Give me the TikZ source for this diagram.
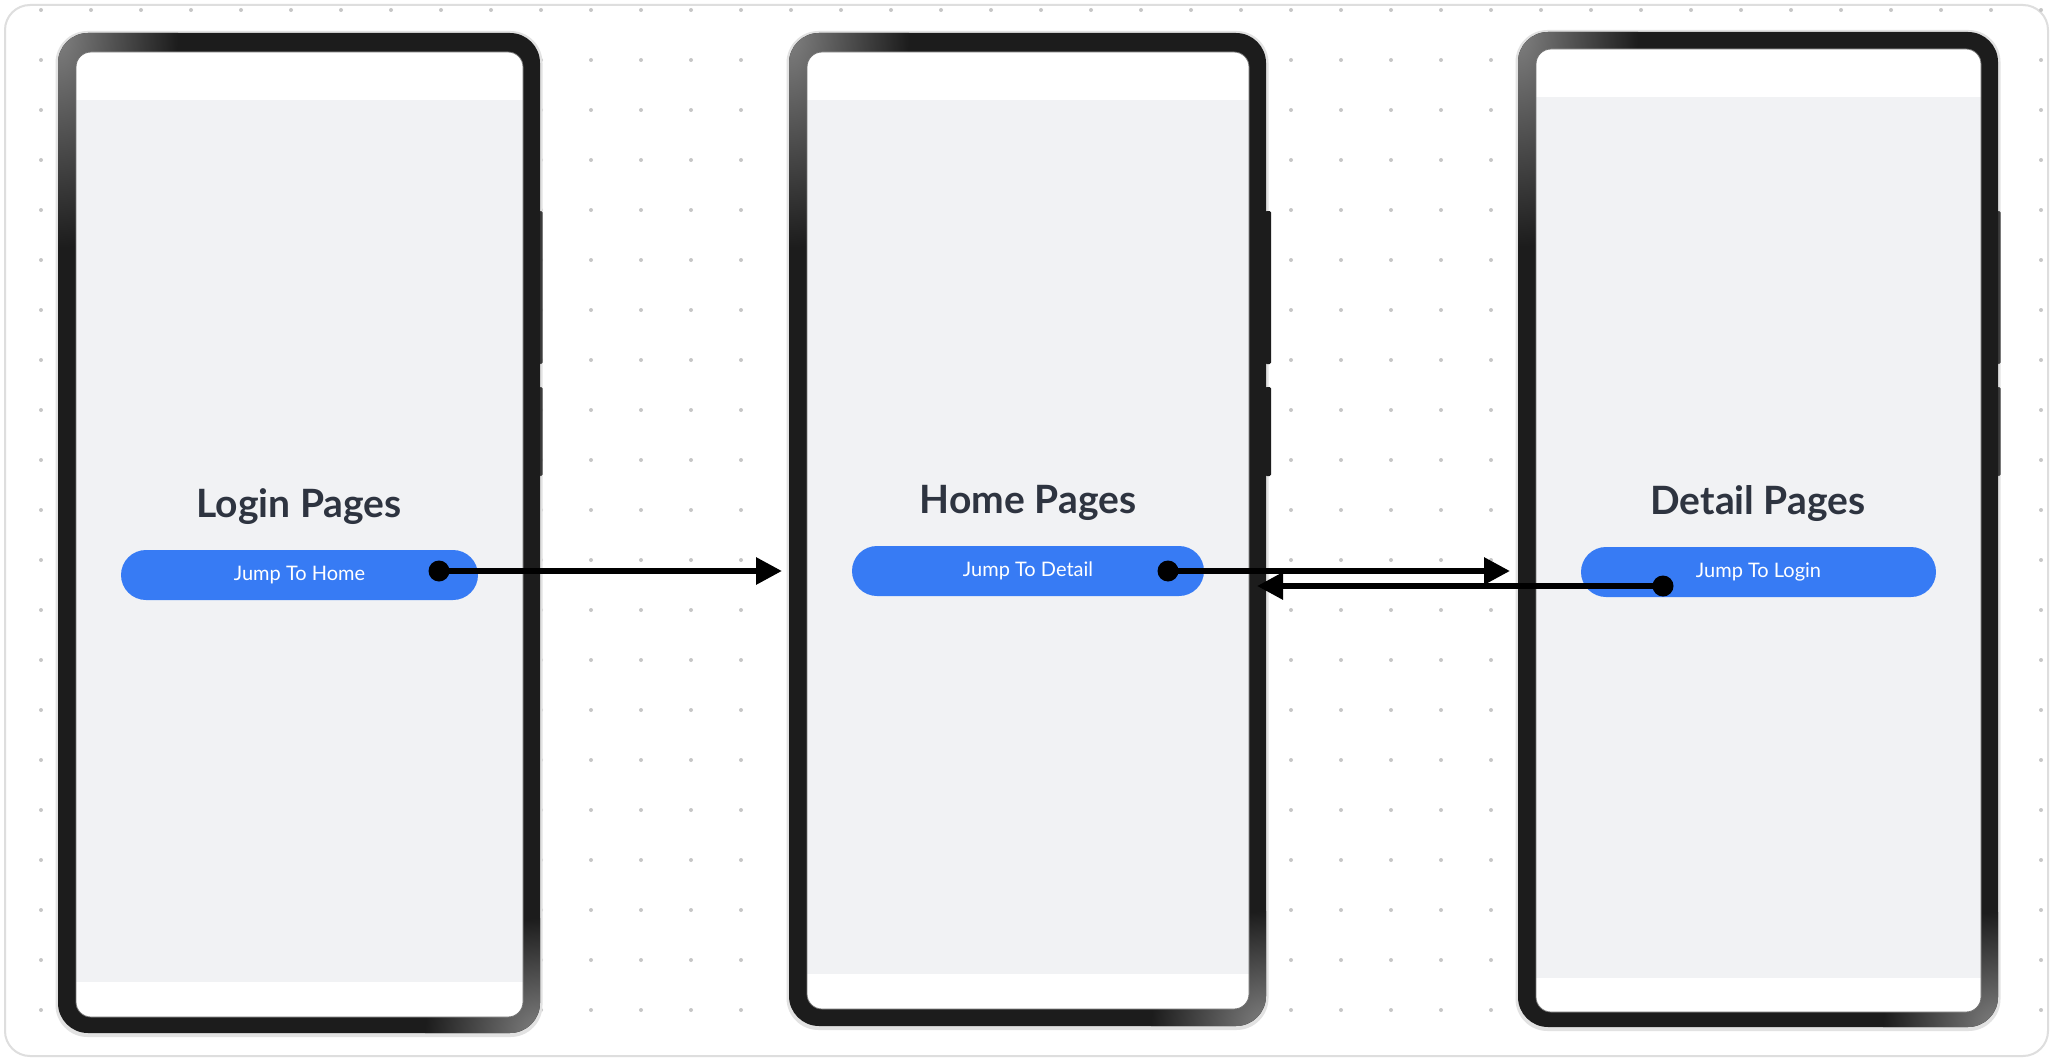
\documentclass[tikz,border=0pt]{standalone}
\usepackage{fontspec}
\setmainfont{Lato}
\usetikzlibrary{arrows.meta}
\definecolor{framec}{HTML}{1C1C1C}
\definecolor{hilite}{HTML}{808080}
\definecolor{screengray}{HTML}{F1F2F4}
\definecolor{btnblue}{HTML}{377BF4}
\definecolor{titlec}{HTML}{2E3440}
\definecolor{dotc}{HTML}{C6C6C6}
\definecolor{cardc}{HTML}{DEDEDE}
\definecolor{shadowc}{HTML}{E2E2E2}
\definecolor{sidebtn}{HTML}{3C3C3C}
\begin{document}
\begin{tikzpicture}[x=1pt,y=-1pt,
  title/.style={font=\bfseries\fontsize{39}{44}\selectfont, text=titlec, anchor=base, inner sep=0pt},
  pill/.style={fill=btnblue, rounded corners=25pt, minimum height=50pt, text=white, font=\fontsize{20}{24}\selectfont, inner sep=0pt},
  dotnode/.style={circle, fill=black, minimum size=21pt, inner sep=0pt},
  link/.style={line width=6pt, -{Triangle[length=26pt,width=26pt]}},
]
\useasboundingbox (0,0) rectangle (2054,1062);
\fill[white] (0,0) rectangle (2054,1062);
% card
\draw[cardc, line width=2pt, fill=white, rounded corners=25pt] (5,5) rectangle (2048,1056);
% dot grid
\foreach \i in {0,...,40}{
  \foreach \j in {0,...,20}{
    \fill[dotc] (41+50*\i, 10+50*\j) circle (2pt);
  }
}
% phones
\foreach \ox/\oy/\Ox/\Oy/\ix/\iy/\Ix/\Iy/\gt/\gb/\bw/\bc in {
  58/33/540/1033/76/52/523/1017/100/982/2.5/sidebtn,
  789/33/1266/1026/807/52/1249/1009/100/974/5/framec,
  1518/32/1998/1027/1536/49/1981/1012/97/978/2.5/sidebtn}{
  \fill[shadowc, rounded corners=32pt] (\ox-2.5,\oy-2) rectangle (\Ox+2.5,\Oy+4);
  \fill[\bc, rounded corners=1.5pt] (\Ox-1,211) rectangle (\Ox+\bw,364);
  \fill[\bc, rounded corners=1.5pt] (\Ox-1,387) rectangle (\Ox+\bw,476);
  \fill[framec, rounded corners=30pt] (\ox,\oy) rectangle (\Ox,\Oy);
  \begin{scope}
    \clip[rounded corners=30pt] (\ox,\oy) rectangle (\Ox,\Oy);
    \shade[inner color=hilite, outer color=framec] (\ox,\oy) ellipse [x radius=120pt, y radius=215pt];
    \shade[inner color=hilite, outer color=framec] (\Ox,\Oy) ellipse [x radius=115pt, y radius=115pt];
  \end{scope}
  \fill[white, rounded corners=15pt] (\ix,\iy) rectangle (\Ix,\Iy);
  \fill[screengray] (\ix,\gt) rectangle (\Ix,\gb);
  \draw[black!55, line width=0.8pt, rounded corners=15pt] (\ix,\iy) rectangle (\Ix,\Iy);
}
% titles
\node[title] (title1) at (299,517) {Login Pages};
\node[title] (title2) at (1028,513) {Home Pages};
\node[title] (title3) at (1758,514) {Detail Pages};
% buttons
\node[pill, minimum width=357pt] (btn1) at (299.5,575) {Jump To Home};
\node[pill, minimum width=352pt] (btn2) at (1028,571) {Jump To Detail};
\node[pill, minimum width=355pt] (btn3) at (1758.5,572) {Jump To Login};
% connectors
\coordinate (s1) at (439,571);
\coordinate (e1) at (782,571);
\coordinate (s2) at (1168,571);
\coordinate (e2) at (1510,571);
\coordinate (s3) at (1663,586);
\coordinate (e3) at (1257,586);
\draw[link] (s1) -- (e1);
\draw[link] (s2) -- (e2);
\draw[link] (s3) -- (e3);
\node[dotnode] (dot1) at (s1) {};
\node[dotnode] (dot2) at (s2) {};
\node[dotnode] (dot3) at (s3) {};
\end{tikzpicture}
\end{document}
